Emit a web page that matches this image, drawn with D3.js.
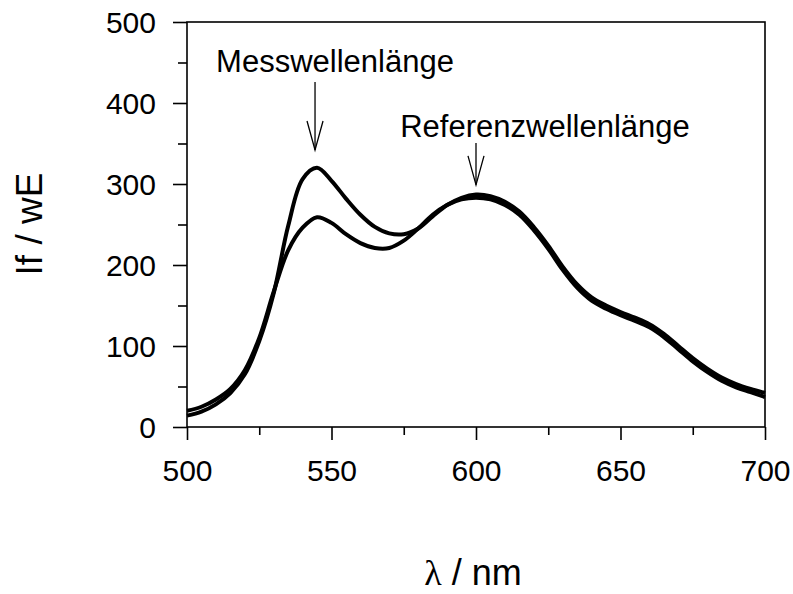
<!DOCTYPE html>
<html>
<head>
<meta charset="utf-8">
<script src="https://cdn.jsdelivr.net/npm/d3@7"></script>
<style>
  body { margin: 0; background: #fff; }
  svg { display: block; font-family: "Liberation Sans", Arial, sans-serif; }
</style>
</head>
<body>
<svg id="chart" width="793" height="594"></svg>
<script>
// Data (wavelength in nm, intensity in wE)
var wavelengths = [500, 505, 510, 515, 520, 525, 530, 535, 540, 545, 550, 555, 560, 565, 570,
  575, 580, 585, 590, 595, 600, 605, 610, 615, 620, 625, 630, 635, 640, 645, 650,
  655, 660, 665, 670, 675, 680, 685, 690, 695, 700];
var highPeak = [14, 19, 28, 42, 65, 106, 165, 248, 306, 320, 304, 282, 262, 247, 239,
  238, 245, 260, 274, 283, 287, 285, 278, 266, 247, 224, 198, 176, 160, 150, 142,
  135, 127, 115, 100, 85, 72, 61, 53, 47, 42];
var lowPeak = [20, 25, 34, 47, 70, 110, 167, 218, 246, 259, 252, 238, 227, 221, 221,
  230, 245, 262, 274, 281, 283, 281, 274, 262, 243, 220, 194, 172, 156, 146, 138,
  131, 123, 111, 96, 81, 68, 57, 49, 43, 37];
var seriesList = [highPeak, lowPeak];

var xTicks = [500, 550, 600, 650, 700];
var yTicks = [0, 100, 200, 300, 400, 500];
var annoLabels = ["Messwellenlänge", "Referenzwellenlänge"];
var annoWavelengths = [544.3, 600];
var annoTips = [342, 299];

var width = 793, height = 594;
var margin = {top: 22, right: 28, bottom: 167, left: 187};
var w = width - margin.left - margin.right;
var h = height - margin.top - margin.bottom;

var svg = d3.select("#chart");
var g = svg.append("g").attr("transform", "translate(" + margin.left + "," + margin.top + ")");

var x = d3.scaleLinear().domain([500, 700]).range([0, w]);
var y = d3.scaleLinear().domain([0, 500]).range([h, 0]);

// minor ticks (short)
var xMinor = d3.axisBottom(x).tickValues(d3.range(525, 700, 50)).tickSize(8).tickFormat("");
var yMinor = d3.axisLeft(y).tickValues(d3.range(50, 500, 100)).tickSize(9).tickFormat("");
g.append("g").attr("transform", "translate(0," + h + ")").call(xMinor);
g.append("g").call(yMinor);

// major ticks
var xAxis = d3.axisBottom(x).tickValues(xTicks).tickSize(13).tickPadding(20).tickFormat(d3.format("d"));
var yAxis = d3.axisLeft(y).tickValues(yTicks).tickSize(14).tickPadding(17).tickFormat(d3.format("d"));
g.append("g").attr("class", "xaxis").attr("transform", "translate(0," + h + ")").call(xAxis);
g.append("g").attr("class", "yaxis").call(yAxis);

g.selectAll(".domain").remove();
g.selectAll(".tick line").attr("stroke", "#000").attr("stroke-width", 1.6);
g.selectAll(".tick text").attr("fill", "#000").style("font-size", "30px");
g.selectAll(".xaxis .tick text").attr("dy", "0.71em");
g.selectAll(".yaxis .tick text").attr("dy", "0.36em");

// frame
g.append("rect").attr("x", 0).attr("y", 0).attr("width", w).attr("height", h)
  .attr("fill", "none").attr("stroke", "#000").attr("stroke-width", 1.6);

// curves
var line = d3.line()
  .x(function(d, i) { return x(wavelengths[i]); })
  .y(function(d) { return y(d); })
  .curve(d3.curveCatmullRom.alpha(0.5));

g.selectAll(".curve").data(seriesList).enter().append("path")
  .attr("class", "curve")
  .attr("d", line)
  .attr("fill", "none")
  .attr("stroke", "#000")
  .attr("stroke-width", 4);

// annotations with open arrows
var annoTextY = [72, 137];
var annoTop = [82, 143];
annoLabels.forEach(function(label, i) {
  var ax = x(annoWavelengths[i]);
  var tip = y(annoTips[i]);
  var top = annoTop[i] - margin.top;
  g.append("line").attr("x1", ax).attr("x2", ax).attr("y1", top).attr("y2", tip)
    .attr("stroke", "#000").attr("stroke-width", 1.3);
  g.append("path")
    .attr("d", "M" + (ax - 8) + "," + (tip - 29) + "L" + ax + "," + tip + "L" + (ax + 8) + "," + (tip - 29))
    .attr("fill", "none").attr("stroke", "#000").attr("stroke-width", 1.3);
});
svg.append("text").attr("x", 335).attr("y", annoTextY[0]).attr("text-anchor", "middle")
  .style("font-size", "31px").text(annoLabels[0]);
svg.append("text").attr("x", 545).attr("y", annoTextY[1]).attr("text-anchor", "middle")
  .style("font-size", "31px").text(annoLabels[1]);

// axis titles
svg.append("text")
  .attr("transform", "translate(42,224) rotate(-90)")
  .attr("text-anchor", "middle")
  .style("font-size", "37px")
  .text("If / wE");

var xt = svg.append("text").attr("x", 473).attr("y", 585).attr("text-anchor", "middle")
  .style("font-size", "36px");
xt.append("tspan").style("font-family", "'Liberation Serif', serif").text("λ");
xt.append("tspan").text(" / nm");
</script>
</body>
</html>
